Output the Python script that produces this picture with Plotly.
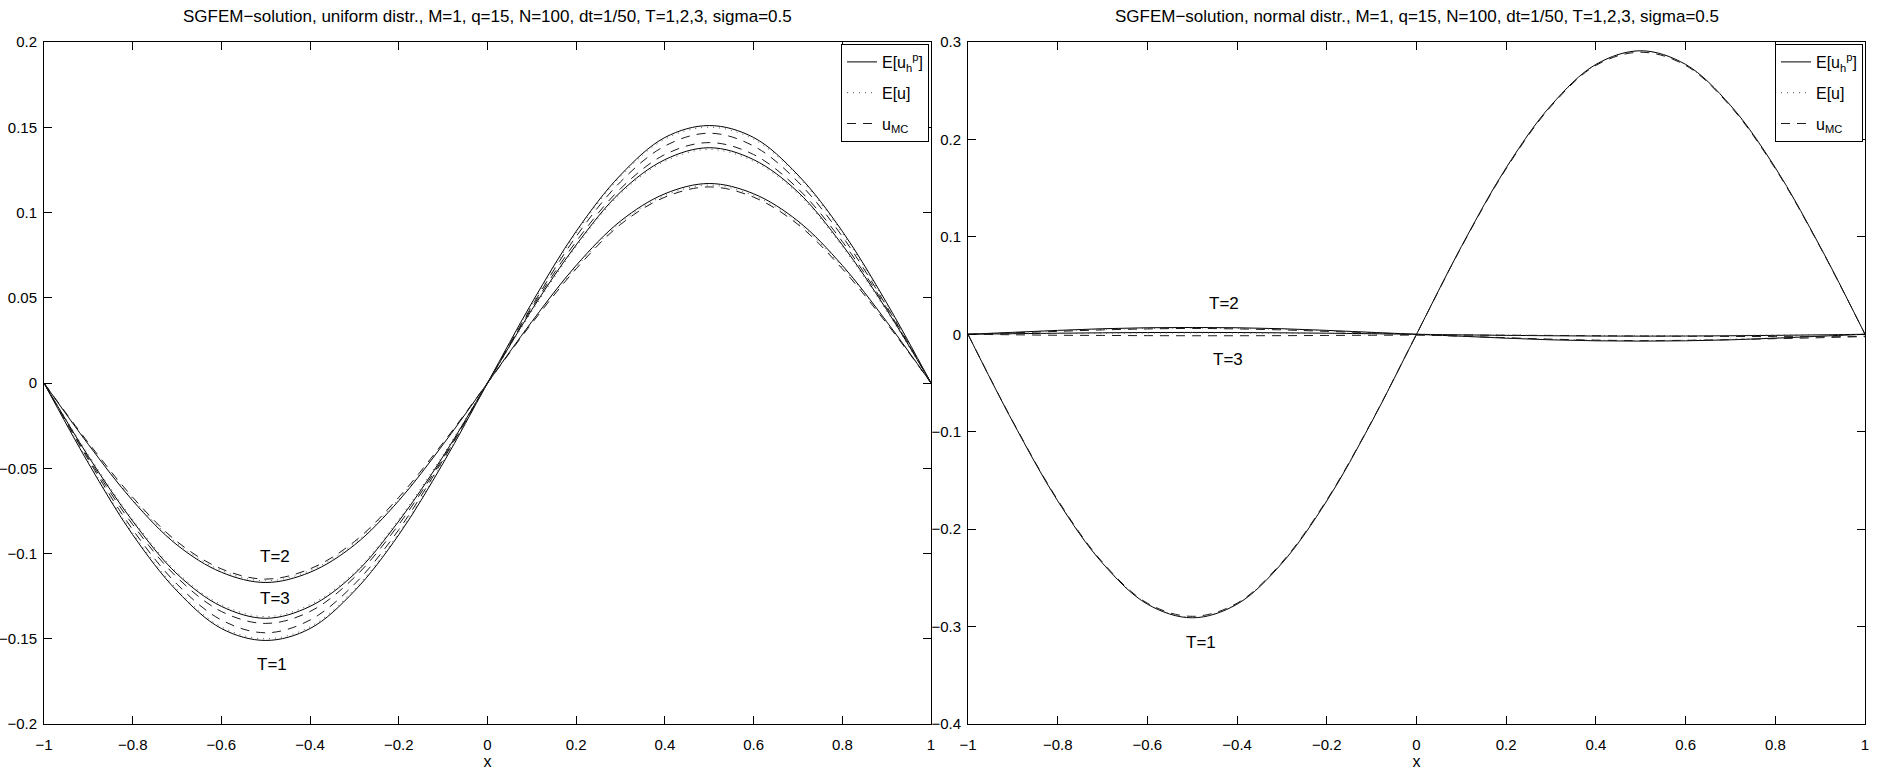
import plotly.graph_objects as go

# ---------------- data ----------------
x = [-1.0, -0.9, -0.8, -0.7, -0.6, -0.5, -0.4, -0.3, -0.2, -0.1, 0.0,
     0.1, 0.2, 0.3, 0.4, 0.5, 0.6, 0.7, 0.8, 0.9, 1.0]

# left panel (uniform distribution)
uni_T1_h = [0, -0.047, -0.089, -0.122, -0.144, -0.151, -0.144, -0.122, -0.089, -0.047, 0,
            0.047, 0.089, 0.122, 0.144, 0.151, 0.144, 0.122, 0.089, 0.047, 0]
uni_T2_h = [0, -0.036, -0.069, -0.095, -0.111, -0.117, -0.111, -0.095, -0.069, -0.036, 0,
            0.036, 0.069, 0.095, 0.111, 0.117, 0.111, 0.095, 0.069, 0.036, 0]
uni_T3_h = [0, -0.043, -0.081, -0.112, -0.131, -0.138, -0.131, -0.112, -0.081, -0.043, 0,
            0.043, 0.081, 0.112, 0.131, 0.138, 0.131, 0.112, 0.081, 0.043, 0]
uni_T1_e = [0, -0.046, -0.088, -0.121, -0.143, -0.150, -0.143, -0.121, -0.088, -0.046, 0,
            0.046, 0.088, 0.121, 0.143, 0.150, 0.143, 0.121, 0.088, 0.046, 0]
uni_T2_e = [0, -0.036, -0.068, -0.094, -0.110, -0.116, -0.110, -0.094, -0.068, -0.036, 0,
            0.036, 0.068, 0.094, 0.110, 0.116, 0.110, 0.094, 0.068, 0.036, 0]
uni_T3_e = [0, -0.042, -0.080, -0.111, -0.130, -0.137, -0.130, -0.111, -0.080, -0.042, 0,
            0.042, 0.080, 0.111, 0.130, 0.137, 0.130, 0.111, 0.080, 0.042, 0]
uni_T1_mc = [0, -0.045, -0.086, -0.118, -0.139, -0.1465, -0.139, -0.118, -0.086, -0.045, 0,
             0.045, 0.086, 0.118, 0.139, 0.1465, 0.139, 0.118, 0.086, 0.045, 0]
uni_T2_mc = [0, -0.035, -0.067, -0.093, -0.109, -0.115, -0.109, -0.093, -0.067, -0.035, 0,
             0.035, 0.067, 0.093, 0.109, 0.115, 0.109, 0.093, 0.067, 0.035, 0]
uni_T3_mc = [0, -0.044, -0.083, -0.114, -0.134, -0.141, -0.134, -0.114, -0.083, -0.044, 0,
             0.044, 0.083, 0.114, 0.134, 0.141, 0.134, 0.114, 0.083, 0.044, 0]

# right panel (normal distribution)
nor_T1_h = [0, -0.090, -0.171, -0.235, -0.277, -0.291, -0.277, -0.235, -0.171, -0.090, 0,
            0.090, 0.171, 0.235, 0.277, 0.291, 0.277, 0.235, 0.171, 0.090, 0]
nor_T2_h = [0, 0.002, 0.004, 0.0057, 0.0067, 0.007, 0.0067, 0.0057, 0.004, 0.002, 0,
            -0.002, -0.004, -0.0057, -0.0067, -0.007, -0.0067, -0.0057, -0.004, -0.002, 0]
nor_T3_h = [0, 0.0006, 0.0011, 0.0015, 0.0018, 0.0019, 0.0018, 0.0015, 0.0011, 0.0006, 0,
            -0.0006, -0.0011, -0.0015, -0.0018, -0.0019, -0.0018, -0.0015, -0.0011, -0.0006, 0]
nor_T1_e = [0, -0.0898, -0.1705, -0.2345, -0.2765, -0.2905, -0.2765, -0.2345, -0.1705, -0.0898, 0,
            0.0898, 0.1705, 0.2345, 0.2765, 0.2905, 0.2765, 0.2345, 0.1705, 0.0898, 0]
nor_T2_e = [0, 0.0018, 0.0036, 0.005, 0.006, 0.0064, 0.006, 0.005, 0.0036, 0.0018, 0,
            -0.0018, -0.0036, -0.005, -0.006, -0.0064, -0.006, -0.005, -0.0036, -0.0018, 0]
nor_T3_e = [0, 0.0004, 0.0008, 0.0011, 0.0013, 0.0014, 0.0013, 0.0011, 0.0008, 0.0004, 0,
            -0.0004, -0.0008, -0.0011, -0.0013, -0.0014, -0.0013, -0.0011, -0.0008, -0.0004, 0]
nor_T1_mc = [0, -0.0895, -0.170, -0.234, -0.276, -0.2895, -0.276, -0.234, -0.170, -0.0895, 0,
             0.0895, 0.170, 0.234, 0.276, 0.2895, 0.276, 0.234, 0.170, 0.0895, 0]
nor_T2_mc = [0, 0.0015, 0.003, 0.0045, 0.0055, 0.006, 0.0055, 0.0045, 0.003, 0.0015, -0.0005,
             -0.002, -0.0035, -0.005, -0.006, -0.0065, -0.0062, -0.0055, -0.0045, -0.0035, -0.002]
nor_T3_mc = [0, -0.0005, -0.001, -0.0012, -0.0014, -0.0015, -0.0015, -0.0014, -0.0012, -0.001, -0.0008,
             -0.0008, -0.001, -0.0012, -0.0015, -0.0018, -0.002, -0.0022, -0.0024, -0.0025, -0.0025]

x_ticks = [-1, -0.8, -0.6, -0.4, -0.2, 0, 0.2, 0.4, 0.6, 0.8, 1]
x_ticktext = ["\u22121", "\u22120.8", "\u22120.6", "\u22120.4", "\u22120.2", "0",
              "0.2", "0.4", "0.6", "0.8", "1"]
yl_ticks = [-0.2, -0.15, -0.1, -0.05, 0, 0.05, 0.1, 0.15, 0.2]
yl_ticktext = ["\u22120.2", "\u22120.15", "\u22120.1", "\u22120.05", "0", "0.05", "0.1", "0.15", "0.2"]
yr_ticks = [-0.4, -0.3, -0.2, -0.1, 0, 0.1, 0.2, 0.3]
yr_ticktext = ["\u22120.4", "\u22120.3", "\u22120.2", "\u22120.1", "0", "0.1", "0.2", "0.3"]

title_left = "SGFEM\u2212solution, uniform distr., M=1, q=15, N=100, dt=1/50, T=1,2,3, sigma=0.5"
title_right = "SGFEM\u2212solution, normal distr., M=1, q=15, N=100, dt=1/50, T=1,2,3, sigma=0.5"
legend_names = ["E[u<sub>h</sub><sup>p</sup>]", "E[u]", "u<sub>MC</sub>"]

labels_left = [("T=2", -0.48, -0.102), ("T=3", -0.48, -0.1266), ("T=1", -0.485, -0.165)]
labels_right = [("T=2", -0.43, 0.032), ("T=3", -0.42, -0.026), ("T=1", -0.48, -0.316)]

# ---------------- layout geometry ----------------
W, H = 1879, 772
L1, R1 = 44, 931
L2, R2 = 968, 1865
TOP, BOT = 42, 724
FONT = "Liberation Sans, Arial, Helvetica, sans-serif"
FS_TICK = 15
FS_LEG = 16
FS_TITLE = 17
FS_LAB = 17

fig = go.Figure()

styles = [("solid", "#000000", 0), ("1px,5px", "#555555", 1), ("9px,7px", "#1a1a1a", 2)]


def add_panel(series_groups, xa, ya, legend):
    for (dash, color, idx), group in zip(styles, series_groups):
        for k, ys in enumerate(group):
            fig.add_trace(go.Scatter(
                x=x, y=ys, mode="lines", xaxis=xa, yaxis=ya,
                line=dict(color=color, width=1, dash=dash, shape="spline", smoothing=1.0),
                name=legend_names[idx], legendgroup=legend + str(idx),
                showlegend=(k == 0), legend=legend, hoverinfo="skip"))


add_panel([[uni_T1_h, uni_T2_h, uni_T3_h],
           [uni_T1_e, uni_T2_e, uni_T3_e],
           [uni_T1_mc, uni_T2_mc, uni_T3_mc]], "x", "y", "legend")
add_panel([[nor_T1_h, nor_T2_h, nor_T3_h],
           [nor_T1_e, nor_T2_e, nor_T3_e],
           [nor_T1_mc, nor_T2_mc, nor_T3_mc]], "x2", "y2", "legend2")

axis_common = dict(showline=True, linecolor="black", linewidth=1, mirror="ticks",
                   ticks="inside", ticklen=8, tickcolor="black", showgrid=False,
                   zeroline=False, automargin=False,
                   tickfont=dict(family=FONT, size=FS_TICK, color="black"))

ydom = [(H - BOT) / H, (H - TOP) / H]
legend_common = dict(xanchor="right", yanchor="top", bgcolor="white", bordercolor="black",
                     borderwidth=1, font=dict(family=FONT, size=FS_LEG), tracegroupgap=7,
                     traceorder="grouped", itemwidth=30)
fig.update_layout(
    width=W, height=H, margin=dict(l=0, r=0, t=0, b=0, autoexpand=False),
    paper_bgcolor="white", plot_bgcolor="white",
    font=dict(family=FONT, size=FS_TICK, color="black"),
    xaxis=dict(domain=[L1 / W, R1 / W], range=[-1, 1], tickvals=x_ticks, ticktext=x_ticktext,
               ticklabelstandoff=7,
               title=dict(text="x", standoff=0, font=dict(family=FONT, size=FS_LEG)), anchor="y", **axis_common),
    yaxis=dict(domain=ydom, range=[-0.2, 0.2], tickvals=yl_ticks, ticktext=yl_ticktext,
               ticklabelstandoff=3, anchor="x", **axis_common),
    xaxis2=dict(domain=[L2 / W, R2 / W], range=[-1, 1], tickvals=x_ticks, ticktext=x_ticktext,
                ticklabelstandoff=7,
                title=dict(text="x", standoff=0, font=dict(family=FONT, size=FS_LEG)), anchor="y2", **axis_common),
    yaxis2=dict(domain=ydom, range=[-0.4, 0.3], tickvals=yr_ticks, ticktext=yr_ticktext,
                ticklabelstandoff=3, anchor="x2", **axis_common),
    legend=dict(x=(R1 - 2) / W, y=(H - TOP - 2) / H, **legend_common),
    legend2=dict(x=(R2 - 2) / W, y=(H - TOP - 2) / H, **legend_common),
    showlegend=True,
)

annotations = [
    dict(text=title_left, x=(L1 + R1) / 2 / W, y=(H - 17) / H, xref="paper", yref="paper",
         showarrow=False, font=dict(family=FONT, size=FS_TITLE), xanchor="center", yanchor="middle"),
    dict(text=title_right, x=(L2 + R2) / 2 / W, y=(H - 17) / H, xref="paper", yref="paper",
         showarrow=False, font=dict(family=FONT, size=FS_TITLE), xanchor="center", yanchor="middle"),
]
for t, ax, ay in labels_left:
    annotations.append(dict(text=t, x=ax, y=ay, xref="x", yref="y", showarrow=False,
                            font=dict(family=FONT, size=FS_LAB)))
for t, ax, ay in labels_right:
    annotations.append(dict(text=t, x=ax, y=ay, xref="x2", yref="y2", showarrow=False,
                            font=dict(family=FONT, size=FS_LAB)))
fig.update_layout(annotations=annotations)

fig.write_html("out.html", config={"displayModeBar": False},
               post_script="document.body.style.margin='0';document.body.style.overflow='hidden';")
